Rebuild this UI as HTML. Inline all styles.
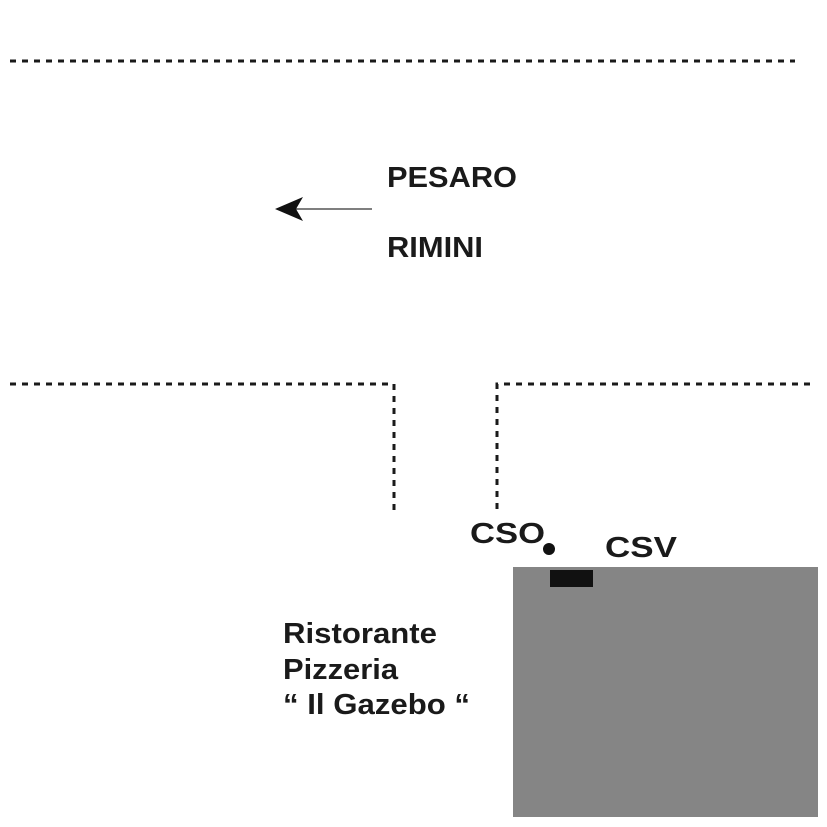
<!DOCTYPE html>
<html><head><style>body{margin:0;background:#fff}</style></head><body>
<svg width="827" height="827" xmlns="http://www.w3.org/2000/svg" style="display:block">
<g stroke="#1a1a1a" stroke-width="3" stroke-dasharray="6,6" fill="none">
<line x1="10" y1="61" x2="795" y2="61"/>
<polyline points="10,384 394,384 394,510"/>
<polyline points="810,384 497,384 497,510"/>
</g>
<line x1="290" y1="209" x2="372" y2="209" stroke="#333" stroke-width="1.2"/>
<path d="M275,209 L303,197 L296,209 L303,221 Z" fill="#111"/>
<rect x="513" y="567" width="305" height="250" fill="#858585"/>
<rect x="550" y="570" width="43" height="17" fill="#111"/>
<circle cx="549" cy="549" r="6" fill="#111"/>
<g font-family="Liberation Sans, sans-serif" font-weight="bold" font-size="29" fill="#1a1a1a">
<text x="387" y="187" textLength="130" lengthAdjust="spacingAndGlyphs">PESARO</text>
<text x="387" y="257" textLength="96" lengthAdjust="spacingAndGlyphs">RIMINI</text>
<text x="470" y="543" textLength="75" lengthAdjust="spacingAndGlyphs">CSO</text>
<text x="605" y="557" textLength="72" lengthAdjust="spacingAndGlyphs">CSV</text>
<text x="283" y="643" textLength="154" lengthAdjust="spacingAndGlyphs">Ristorante</text>
<text x="283" y="679" textLength="115" lengthAdjust="spacingAndGlyphs">Pizzeria</text>
<text x="283" y="714" textLength="187" lengthAdjust="spacingAndGlyphs">“ Il Gazebo “</text>
</g>
</svg>
</body></html>
